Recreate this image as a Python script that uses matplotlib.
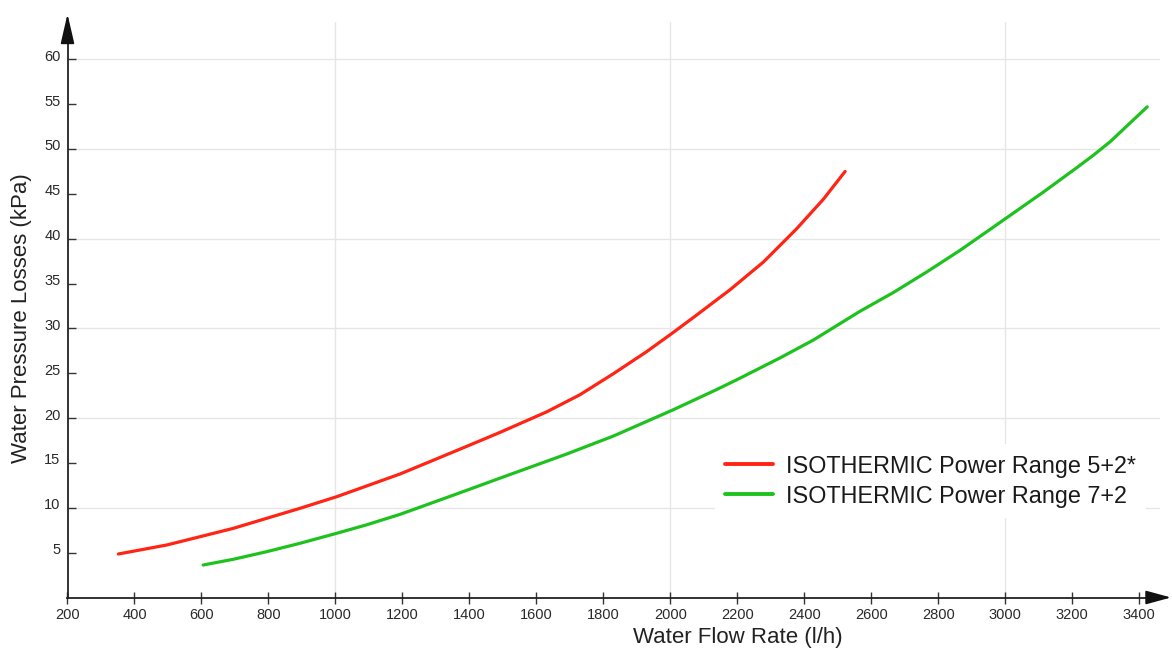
import matplotlib
matplotlib.use("Agg")
import matplotlib.pyplot as plt
import matplotlib.transforms as mtransforms

plt.rcParams['font.family'] = ['Liberation Sans', 'DejaVu Sans']

# ---- data ----
red_x = [352, 496, 596, 695, 795, 894, 1004, 1093, 1193, 1292, 1392, 1491,
         1631, 1730, 1830, 1929, 2007, 2079, 2178, 2278, 2377, 2457, 2522]
red_y = [4.85, 5.85, 6.78, 7.71, 8.83, 9.94, 11.24, 12.43, 13.77, 15.3, 16.85, 18.4,
         20.7, 22.6, 24.95, 27.4, 29.5, 31.5, 34.3, 37.4, 41.1, 44.4, 47.5]
green_x = [605, 695, 795, 894, 1004, 1093, 1193, 1292, 1392, 1491, 1691, 1830, 2007, 2128,
           2200, 2327, 2427, 2566, 2666, 2766, 2865, 2915, 3007, 3114, 3213, 3263, 3313, 3424]
green_y = [3.62, 4.26, 5.11, 6.04, 7.16, 8.1, 9.27, 10.6, 11.95, 13.3, 16.0, 18.0, 20.9, 23.0,
           24.3, 26.7, 28.7, 31.9, 34.0, 36.3, 38.7, 40.0, 42.4, 45.2, 47.9, 49.3, 50.8, 54.7]
red_label = "ISOTHERMIC Power Range 5+2*"
green_label = "ISOTHERMIC Power Range 7+2"
x_ticks = list(range(200, 3401, 200))
y_ticks = list(range(5, 61, 5))
grid_x = [1000, 2000, 3000]
grid_y = [10, 20, 30, 40, 50, 60]

W, H = 1172, 650
fig = plt.figure(figsize=(W / 100, H / 100), dpi=100)
left_px, right_px, top_px, bottom_px = 67.5, 1160, 22, 597.5
ax = fig.add_axes([left_px / W, 1 - bottom_px / H, (right_px - left_px) / W, (bottom_px - top_px) / H])

x0 = 200
xpx = 0.3349  # px per unit
ax.set_xlim(x0, x0 + (right_px - left_px) / xpx)
ypx = 8.97
ax.set_ylim(0, (bottom_px - top_px) / ypx)

for gx in grid_x:
    ax.axvline(gx, color='#e6e6e6', lw=1.0, zorder=0)
for gy in grid_y:
    ax.axhline(gy, color='#e6e6e6', lw=1.0, zorder=0)

ax.plot(red_x, red_y, color='#ff2414', lw=2.3, label=red_label,
        solid_capstyle='round', solid_joinstyle='round', zorder=3)
ax.plot(green_x, green_y, color='#1ec21e', lw=2.3, label=green_label,
        solid_capstyle='round', solid_joinstyle='round', zorder=3)

for s in ['top', 'right']:
    ax.spines[s].set_visible(False)
for s in ['left', 'bottom']:
    ax.spines[s].set_color('#222222')
    ax.spines[s].set_linewidth(1.3)

ax.set_xticks(x_ticks)
ax.set_yticks(y_ticks)
ax.tick_params(axis='x', direction='inout', length=9, width=1.0, color='#333333',
               labelsize=10.5, labelcolor='#2a2a2a', pad=3)
ax.tick_params(axis='y', direction='in', length=6, width=1.0, color='#333333',
               labelsize=10.5, labelcolor='#2a2a2a', pad=5)
offset = mtransforms.ScaledTranslation(0, 4 / 100, fig.dpi_scale_trans)
for lab in ax.get_yticklabels():
    lab.set_transform(lab.get_transform() + offset)

ax.set_xlabel("Water Flow Rate (l/h)", fontsize=16, color='#222222')
ax.xaxis.set_label_coords((738 - left_px) / (right_px - left_px), -(637 - bottom_px) / (bottom_px - top_px))
ax.xaxis.label.set_va('center')
ax.set_ylabel("Water Pressure Losses (kPa)", fontsize=16, color='#222222')
ax.yaxis.set_label_coords(-(left_px - 22) / (right_px - left_px), (bottom_px - 318) / (bottom_px - top_px))
ax.yaxis.label.set_va('center')

# axis arrows
ax.annotate('', xy=(0, 1 + 8 / (bottom_px - top_px)), xytext=(0, 0.98),
            xycoords='axes fraction', textcoords='axes fraction',
            arrowprops=dict(arrowstyle='-|>,head_length=1.3,head_width=0.3', color='#111111',
                            lw=1.3, mutation_scale=14, shrinkA=0, shrinkB=0), annotation_clip=False)
ax.annotate('', xy=(1 + 11 / (right_px - left_px), 0), xytext=(0.99, 0),
            xycoords='axes fraction', textcoords='axes fraction',
            arrowprops=dict(arrowstyle='-|>,head_length=1.1,head_width=0.3', color='#111111',
                            lw=1.3, mutation_scale=14, shrinkA=0, shrinkB=0), annotation_clip=False)

leg = ax.legend(loc='upper left', bbox_to_anchor=(714.5 / W, 1 - 444 / H), bbox_transform=fig.transFigure,
                fontsize=16.8, frameon=True, framealpha=1, facecolor='white', edgecolor='none',
                handlelength=2.05, handletextpad=0.55, labelspacing=0.3, borderpad=0.45, borderaxespad=0)
leg.get_frame().set_linewidth(0)
for t in leg.get_texts():
    t.set_color('#1a1a1a')
for l in leg.get_lines():
    l.set_linewidth(2.8)

fig.savefig('out.png', dpi=100)
